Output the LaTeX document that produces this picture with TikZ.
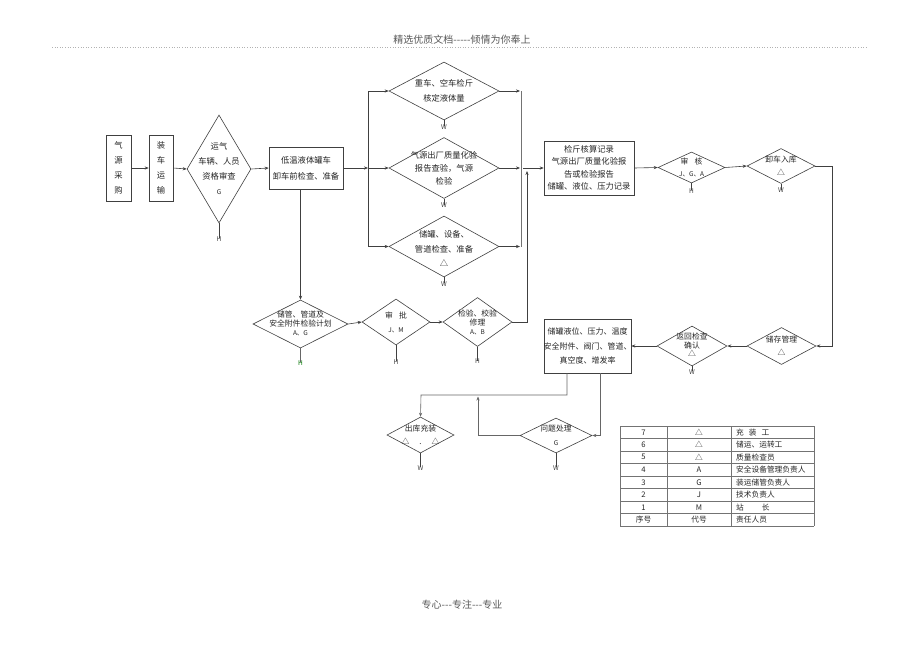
\documentclass[tikz,border=0pt]{standalone}
\usepackage{fontspec}
\setmainfont{Noto Sans CJK SC}
\usetikzlibrary{shapes.geometric,arrows.meta}
\begin{document}
\begin{tikzpicture}[x=1pt,y=-1pt,
 ln/.style={line width=0.6pt, draw=black!75},
 arr/.style={ln, -{Stealth[length=4pt,width=3.2pt]}},
 box/.style={draw=black!75, line width=0.6pt, rectangle, inner sep=0pt},
 dia/.style={draw=black!75, line width=0.6pt, diamond, inner sep=0pt},
 txt/.style={font=\fontsize{8.3}{14.5}\selectfont, align=center, text=black!85, inner sep=0pt},
 txs/.style={font=\fontsize{8.3}{12.5}\selectfont, align=center, text=black!85, inner sep=0pt},
 mk/.style={font=\fontsize{6.5}{7}\selectfont, text=black!75, inner sep=0pt},
 tl/.style={draw=black!55, line width=0.5pt},
 tt/.style={font=\fontsize{7.7}{8}\selectfont, text=black!85, inner sep=0pt},
]
\useasboundingbox (0,0) rectangle (920,651);
\fill[white] (0,0) rectangle (920,651);

% header and footer
\node[font=\fontsize{10}{12}\selectfont, text=black!65] (hdr) at (462,40) {精选优质文档-{}-{}-{}-{}-倾情为你奉上};
\draw[black!30, dotted, line width=0.6pt] (52,47) -- (868,47);
\node[font=\fontsize{10}{12}\selectfont, text=black!65] (ftr) at (462,605) {专心-{}-{}-专注-{}-{}-专业};

% boxes
\node[box, minimum width=25pt, minimum height=66pt] (b1) at (118.5,168) {};
\node[txt, font=\fontsize{8.3}{15}\selectfont] at (b1) {气\\源\\采\\购};
\node[box, minimum width=24pt, minimum height=66pt] (b2) at (161,168) {};
\node[txt, font=\fontsize{8.3}{15}\selectfont] at (b2) {装\\车\\运\\输};
\node[box, minimum width=74pt, minimum height=42pt] (b3) at (306,168) {};
\node[txt, font=\fontsize{8.3}{16}\selectfont] at (b3) {低温液体罐车\\卸车前检查、准备};
\node[box, minimum width=90pt, minimum height=54pt] (b4) at (589,168) {};
\node[txs] at (b4) {检斤核算记录\\气源出厂质量化验报\\告或检验报告\\储罐、液位、压力记录};
\node[box, minimum width=87pt, minimum height=54pt] (b5) at (587.5,346) {};
\node[txt, font=\fontsize{8}{14.5}\selectfont] at (b5) {储罐液位、压力、温度\\安全附件、阀门、管道、\\真空度、增发率};

% diamonds
\node[dia, minimum width=64pt, minimum height=108pt] (d1) at (219,169) {};
\node[txt, font=\fontsize{8.3}{15}\selectfont] at (d1) {运气\\车辆、人员\\资格审查\\{\fontsize{6.5}{6}\selectfont G}};
\node[dia, minimum width=110pt, minimum height=58pt] (dA) at (444,91) {};
\node[txt] at (dA) {重车、空车检斤\\核定液体量};
\node[dia, minimum width=110pt, minimum height=61pt] (dB) at (444,168) {};
\node[txs, font=\fontsize{8.3}{13}\selectfont] at (dB) {气源出厂质量化验\\报告查验，气源\\检验};
\node[dia, minimum width=110pt, minimum height=61pt] (dC) at (444,246.5) {};
\node[txt] at ([yshift=-2]dC) {储罐、设备、\\管道检查、准备\\△};
\node[dia, minimum width=67pt, minimum height=31pt] (dD) at (691.5,167.5) {};
\node[txs, font=\fontsize{7.8}{12}\selectfont] at (dD) {审\hspace{6pt}核\\{\fontsize{6.5}{6}\selectfont J、G、A}};
\node[dia, minimum width=68pt, minimum height=35pt] (dE) at (781,166) {};
\node[txs, font=\fontsize{7.8}{13}\selectfont] at (dE) {卸车入库\\△};
\node[dia, minimum width=69pt, minimum height=37pt] (dF) at (781.5,346) {};
\node[txs, font=\fontsize{7.8}{13}\selectfont] at (dF) {储存管理\\△};
\node[dia, minimum width=70pt, minimum height=40pt] (dG) at (692,346) {};
\node[txs, font=\fontsize{7.8}{8.5}\selectfont] at ([yshift=1]dG) {返回检查\\确认\\△};
\node[dia, minimum width=67pt, minimum height=36pt] (dH) at (420.5,435) {};
\node[txs, font=\fontsize{7.8}{13}\selectfont] at (dH) {出库充装\\△\hspace{10pt}.\hspace{10pt}△};
\node[dia, minimum width=72pt, minimum height=35pt] (dI) at (556,435.5) {};
\node[txs, font=\fontsize{7.8}{14}\selectfont] at (dI) {问题处理\\{\fontsize{6.5}{6}\selectfont G}};
\node[dia, minimum width=95pt, minimum height=48pt] (dJ) at (300.5,324) {};
\node[txs, font=\fontsize{7.8}{9}\selectfont] at ([yshift=1]dJ) {储管、管道及\\安全附件检验计划\\{\fontsize{6.5}{8}\selectfont A、G}};
\node[dia, minimum width=68pt, minimum height=46pt] (dK) at (396,322) {};
\node[txs, font=\fontsize{7.8}{14}\selectfont] at (dK) {审\hspace{6pt}批\\{\fontsize{6.5}{6}\selectfont J、M}};
\node[dia, minimum width=69pt, minimum height=49pt] (dL) at (477.5,322) {};
\node[txs, font=\fontsize{7.8}{9}\selectfont] at (dL) {检验、校验\\修理\\{\fontsize{6.5}{8}\selectfont A、B}};

% main flow
\draw[arr] (b1.east) -- (b2.west);
\draw[arr] (b2.east) -- (d1.west);
\draw[arr] (d1.east) -- (b3.west);

\coordinate (sL) at (368,168);
\coordinate (sLa) at (368,91);
\coordinate (sLc) at (368,246.5);
\draw[arr] (b3.east) -- (sL);
\draw[ln] (sLa) -- (sLc);
\draw[arr] (sLa) -- (dA.west);
\draw[arr] (sL) -- (dB.west);
\draw[arr] (sLc) -- (dC.west);

\coordinate (mRa) at (521,91);
\coordinate (mRc) at (521,246.5);
\coordinate (mR) at (521,168);
\draw[ln, draw=black!55] (mRa) -- (mRc);
\draw[arr] (dA.east) -- ([xshift=-1]mRa);
\draw[arr] (dB.east) -- ([xshift=-1]mR);
\draw[arr] (dC.east) -- ([xshift=-1]mRc);
\draw[arr] ([xshift=2]mR) -- (b4.west);

\draw[arr] (b4.east) -- (dD.west);
\draw[arr] (dD.east) -- (dE.west);
\coordinate (rc1) at (832,166);
\coordinate (rc2) at (832,346);
\draw[arr] (dE.east) -- (rc1) -- (rc2) -- (dF.east);
\draw[arr] (dF.west) -- (dG.east);
\draw[arr] (dG.west) -- (b5.east);

% bottom-left branch
\draw[arr] (dJ.north |- b3.south) -- (dJ.north);
\draw[arr] (dJ.east) -- (dK.west);
\draw[arr] (dK.east) -- (dL.west);
\coordinate (up1) at (527,322);
\coordinate (up2) at (527,171);
\draw[arr] (dL.east) -- (up1) -- (up2);

% from box 5 downwards
\coordinate (o1) at (567,395);
\coordinate (o2) at (421,395);
\draw[arr, draw=black!60] (b5.south -| o1) -- (o1) -- (o2) -- (dH.north);
\coordinate (p1) at (600,435.5);
\draw[arr, draw=black!60] (b5.south -| p1) -- (p1) -- (dI.east);
\coordinate (q1) at (478,435.5);
\coordinate (q2) at (478,396.5);
\draw[arr, draw=black!60] (dI.west) -- (q1) -- (q2);

% marks under diamonds
\foreach \d/\l/\len in {d1/H/15, dA/W/6, dB/W/6, dC/W/6, dD/H/7, dE/W/6, dG/W/5, dH/W/14, dI/W/14, dK/H/16, dL/H/14}{
  \draw[ln, line width=0.5pt] (\d.south) -- ++(0,\len) coordinate (\d m);
  \node[mk, anchor=north] at ([yshift=2]\d m) {\l};
}
\draw[ln, line width=0.5pt, draw=black!60] (dJ.south) -- ++(0,14) coordinate (dJm);
\node[mk, anchor=north, text=green!45!black] at ([yshift=2]dJm) {H};

% table
\foreach \i in {0,...,8}{
  \draw[tl] (620,{426+12.5*\i}) -- (814,{426+12.5*\i});
}
\draw[tl, line width=1pt] (620,501) -- (814,501);
\foreach \x in {620,667,731,814}{
  \draw[tl] (\x,426) -- (\x,526);
}
\foreach \a/\b/\c [count=\i from 0] in {7/△/{充\hspace{5pt}装\hspace{5pt}工},6/△/储运、运转工,5/△/质量检查员,4/A/安全设备管理负责人,3/G/装运储管负责人,2/J/技术负责人,1/M/{站\hspace{18pt}长},序号/代号/责任人员}{
  \node[tt] at (643.5,{432.25+12.5*\i}) {\a};
  \node[tt] at (699,{432.25+12.5*\i}) {\b};
  \node[tt, anchor=west] at (736,{432.25+12.5*\i}) {\c};
}
\end{tikzpicture}
\end{document}
